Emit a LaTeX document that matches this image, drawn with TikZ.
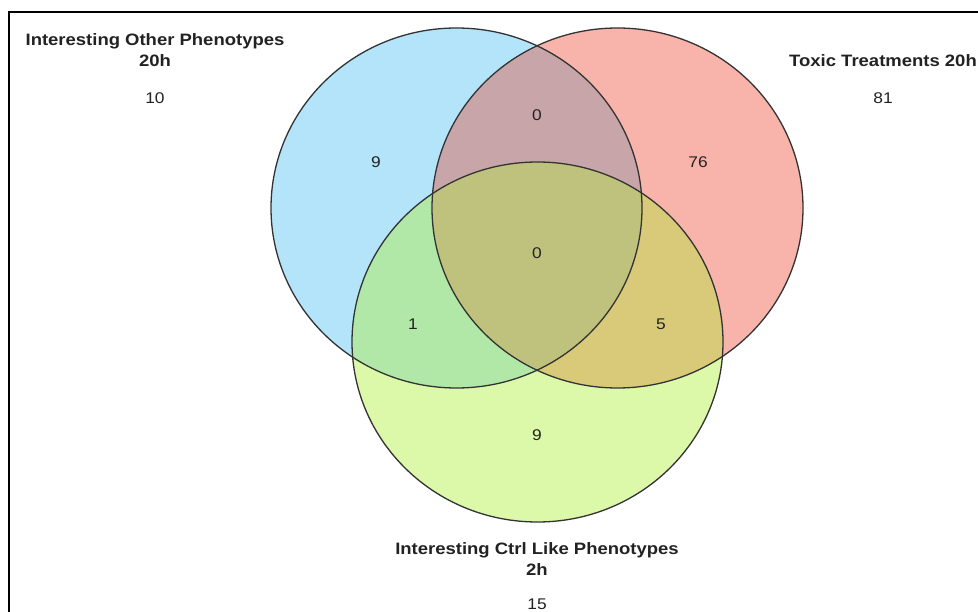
\documentclass[tikz,border=0pt]{standalone}
\usepackage{fontspec}
\setmainfont{Liberation Sans}
\newfontfamily\widesans[FakeStretch=1.12]{Liberation Sans}
\definecolor{setA}{HTML}{B3E4FA}
\definecolor{setB}{HTML}{F8B4AB}
\definecolor{setC}{HTML}{DBF9A9}
\definecolor{setAB}{HTML}{C7A5A8}
\definecolor{setAC}{HTML}{B1E8A8}
\definecolor{setBC}{HTML}{D9CA79}
\definecolor{setABC}{HTML}{BFC27C}
\definecolor{ink}{HTML}{222222}
\definecolor{rim}{HTML}{333333}
\begin{document}
\begin{tikzpicture}[x=1pt,y=-1pt,
  setlabel/.style={text=ink,align=center,font=\widesans\fontsize{16.5}{21}\selectfont\bfseries,inner sep=0pt},
  count/.style={text=ink,font=\widesans\fontsize{15.5}{18}\selectfont,inner sep=0pt},
  rimline/.style={draw=rim,line width=1.3pt},
  setshape/.style={x radius=185.5,y radius=180}]
\useasboundingbox (0,0) rectangle (978,612);
\fill[white] (0,0) rectangle (978,612);
% frame edges
\draw[line width=2pt,black] (8.5,612) -- (8.5,12.5) -- (978,12.5);
% set centres
\coordinate (A) at (456.5,208);
\coordinate (B) at (617.5,208);
\coordinate (C) at (537.5,342);
% single-set fills
\fill[setA] (A) ellipse [setshape];
\fill[setB] (B) ellipse [setshape];
\fill[setC] (C) ellipse [setshape];
% pairwise overlaps
\begin{scope}\clip (A) ellipse [setshape]; \fill[setAB] (B) ellipse [setshape];\end{scope}
\begin{scope}\clip (A) ellipse [setshape]; \fill[setAC] (C) ellipse [setshape];\end{scope}
\begin{scope}\clip (B) ellipse [setshape]; \fill[setBC] (C) ellipse [setshape];\end{scope}
% triple overlap
\begin{scope}\clip (A) ellipse [setshape]; \clip (B) ellipse [setshape]; \fill[setABC] (C) ellipse [setshape];\end{scope}
% outlines
\draw[rimline] (A) ellipse [setshape];
\draw[rimline] (B) ellipse [setshape];
\draw[rimline] (C) ellipse [setshape];
% set names and totals
\node[setlabel] (nameA) at (155,50) {Interesting Other Phenotypes\\20h};
\node[count] (totA) at (155,98) {10};
\node[setlabel] (nameB) at (883,61) {Toxic Treatments 20h};
\node[count] (totB) at (883,98) {81};
\node[setlabel] (nameC) at (537,559) {Interesting Ctrl Like Phenotypes\\2h};
\node[count] (totC) at (537,604) {15};
% region counts
\node[count] (nA) at (376,162) {9};
\node[count] (nB) at (698,162) {76};
\node[count] (nC) at (537,435) {9};
\node[count] (nAB) at (537,115) {0};
\node[count] (nAC) at (413,324) {1};
\node[count] (nBC) at (661,324) {5};
\node[count] (nABC) at (537,253) {0};
\end{tikzpicture}
\end{document}
